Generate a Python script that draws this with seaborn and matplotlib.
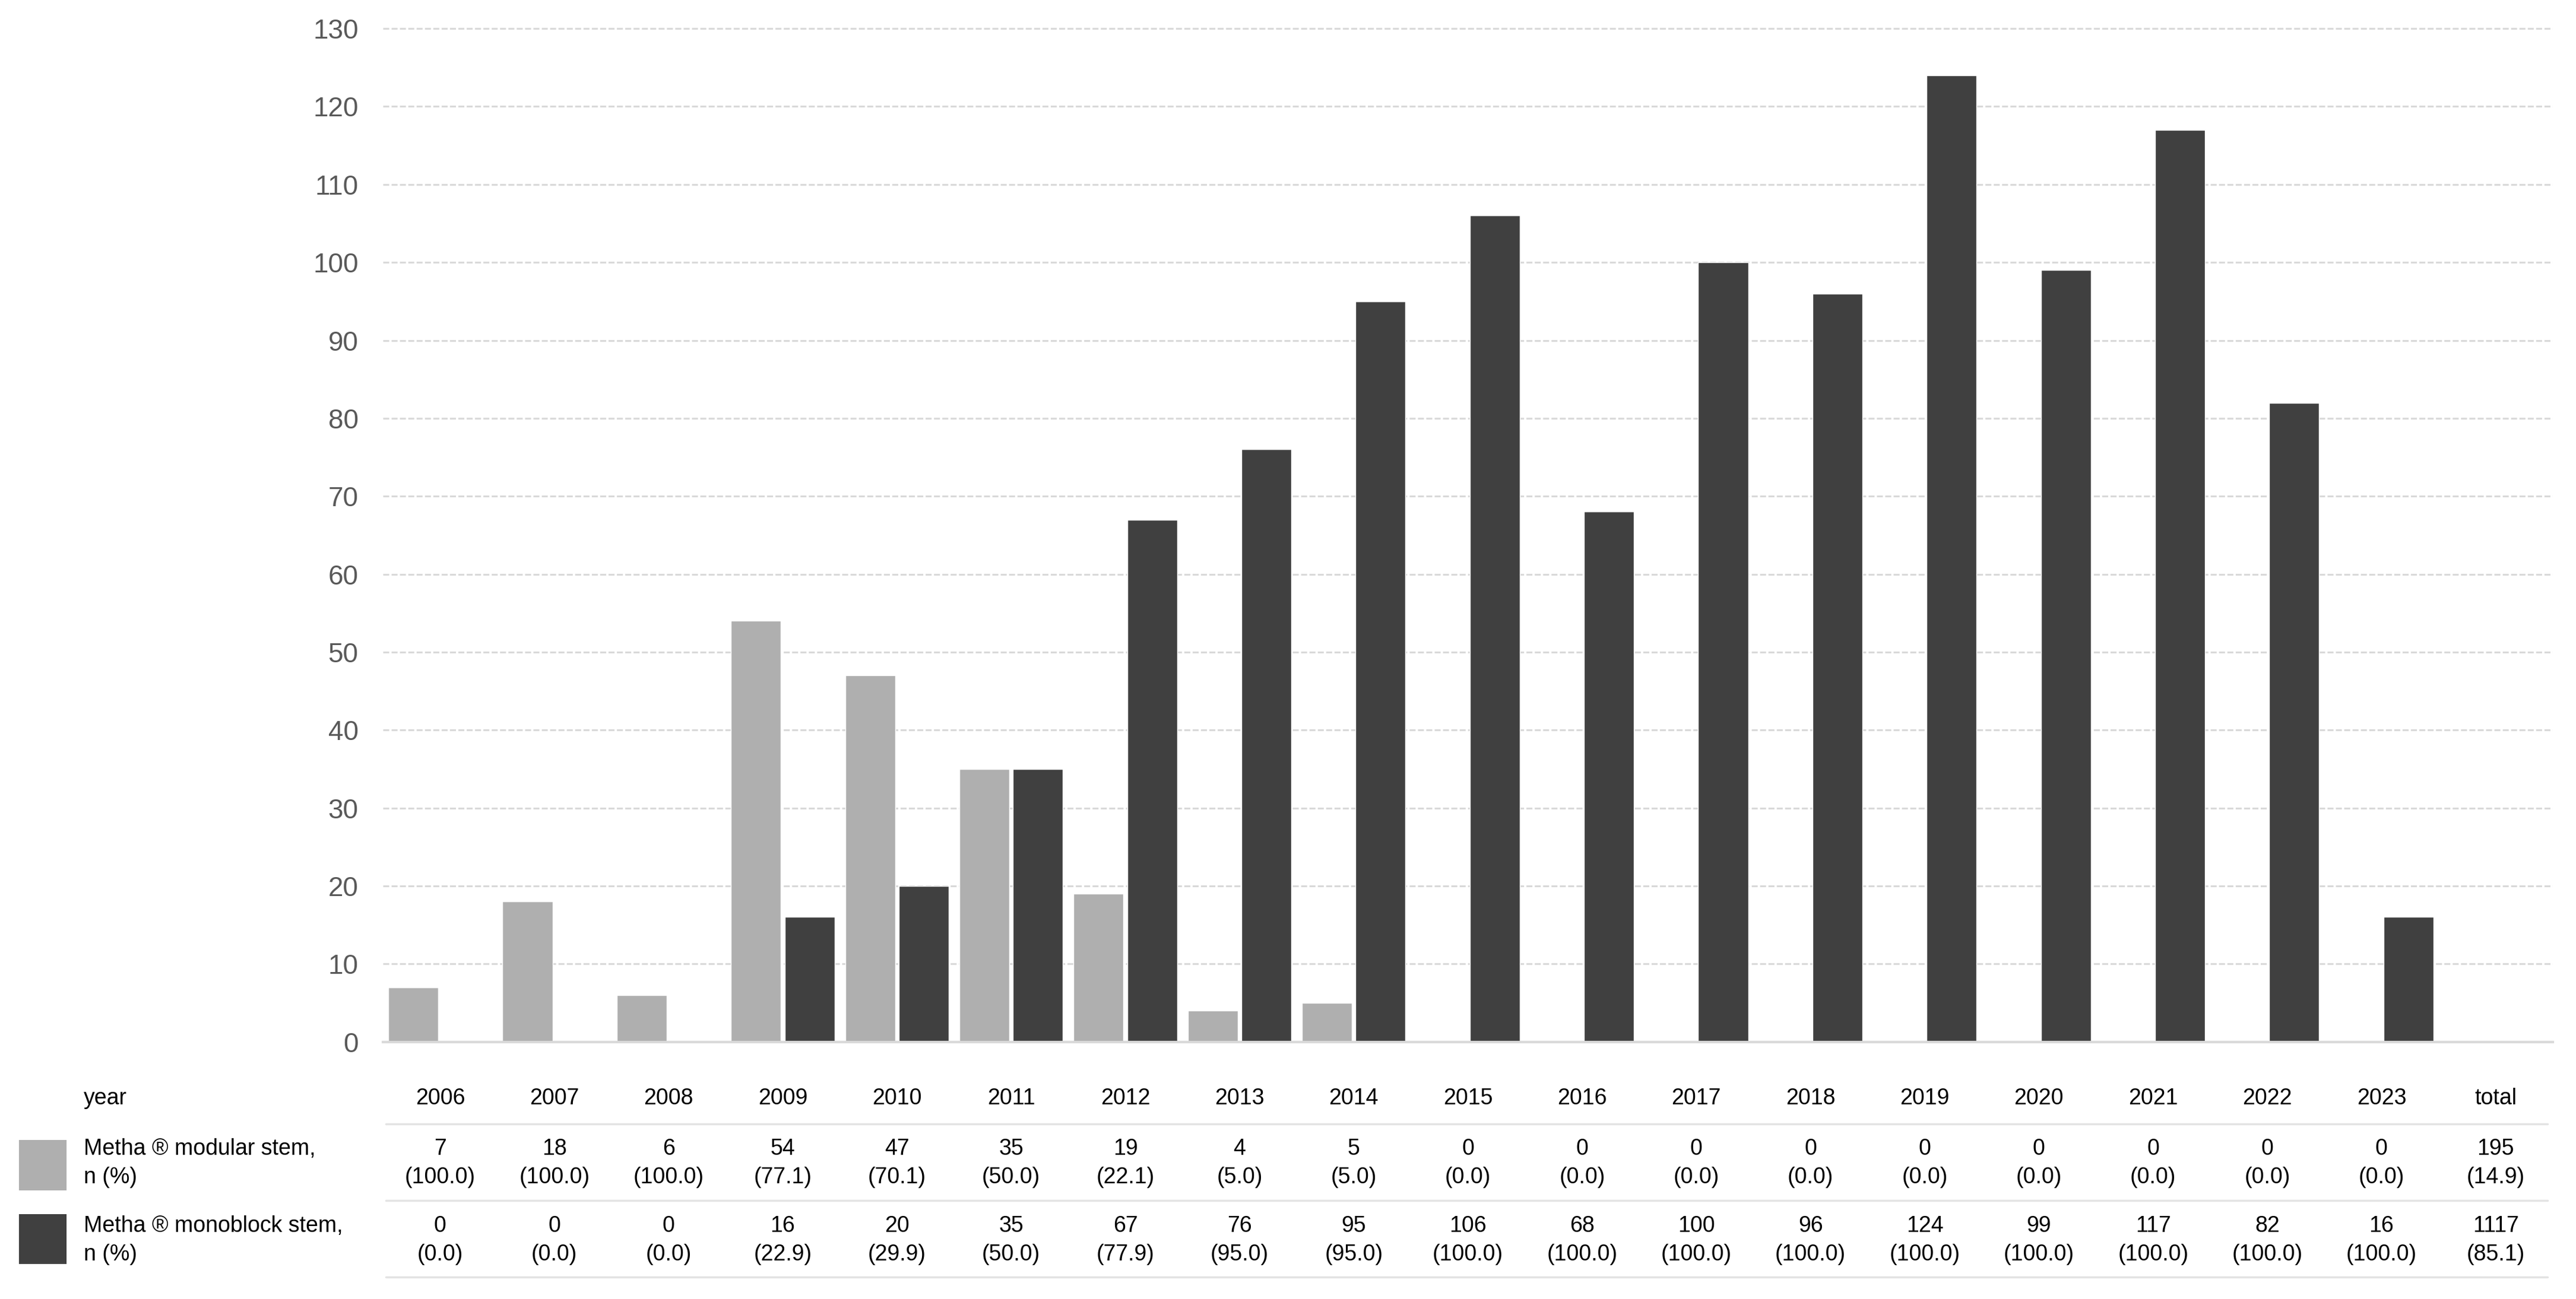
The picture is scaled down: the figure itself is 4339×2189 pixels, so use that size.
import matplotlib
matplotlib.use("Agg")
import matplotlib.pyplot as plt
import seaborn as sns
import pandas as pd
from matplotlib.transforms import blended_transform_factory
from matplotlib.patches import Rectangle
from matplotlib.lines import Line2D

years = ["2006", "2007", "2008", "2009", "2010", "2011", "2012", "2013", "2014",
         "2015", "2016", "2017", "2018", "2019", "2020", "2021", "2022", "2023"]
modular = [7, 18, 6, 54, 47, 35, 19, 4, 5, 0, 0, 0, 0, 0, 0, 0, 0, 0]
monoblock = [0, 0, 0, 16, 20, 35, 67, 76, 95, 106, 68, 100, 96, 124, 99, 117, 82, 16]
modular_pct = ["100.0", "100.0", "100.0", "77.1", "70.1", "50.0", "22.1", "5.0", "5.0",
               "0.0", "0.0", "0.0", "0.0", "0.0", "0.0", "0.0", "0.0", "0.0"]
monoblock_pct = ["0.0", "0.0", "0.0", "22.9", "29.9", "50.0", "77.9", "95.0", "95.0",
                 "100.0", "100.0", "100.0", "100.0", "100.0", "100.0", "100.0", "100.0", "100.0"]
total_label = "total"
modular_total = (195, "14.9")
monoblock_total = (1117, "85.1")
series_names = ["Metha \u00ae modular stem,\nn (%)", "Metha \u00ae monoblock stem,\nn (%)"]
yticks = list(range(0, 131, 10))

LIGHT = "#afafaf"
DARK = "#404040"
GRID = "#d9d9d9"

sns.set_theme(style="white")
plt.rcParams['font.family'] = ['Liberation Sans', 'DejaVu Sans']

df = pd.DataFrame({
    "year": years * 2,
    "count": modular + monoblock,
    "type": [series_names[0]] * len(years) + [series_names[1]] * len(years),
})

fig = plt.figure(figsize=(43.39, 21.89), dpi=100)
ax = fig.add_axes([0.1487, 0.198, 0.991 - 0.1487, 0.984 - 0.198])

sns.barplot(data=df, x="year", y="count", hue="type", order=years,
            palette=[LIGHT, DARK], width=0.94, gap=0.07, ax=ax,
            legend=False, saturation=1)

ax.set_xlim(-0.5, len(years) + 0.5)
ax.set_ylim(0, 131)
ax.set_yticks(yticks)
ax.set_xticks([])
ax.set_xlabel("")
ax.set_ylabel("")
ax.tick_params(axis="y", length=0, pad=30, labelsize=33, labelcolor="#595959")
for s in ["top", "right", "left"]:
    ax.spines[s].set_visible(False)
ax.spines["bottom"].set_color(GRID)
ax.spines["bottom"].set_linewidth(3)
ax.set_axisbelow(True)
ax.yaxis.grid(True, color=GRID, linewidth=2.2, linestyle=(0, (3.3, 1.3)))

# table below
tr = blended_transform_factory(ax.transData, fig.transFigure)
fs = 27
y_year = 0.1544
y_mod = 0.1046
y_mono = 0.0452
cols = years + [total_label]
mod_vals = [f"{v}\n({p})" for v, p in zip(modular, modular_pct)] + [f"{modular_total[0]}\n({modular_total[1]})"]
mono_vals = [f"{v}\n({p})" for v, p in zip(monoblock, monoblock_pct)] + [f"{monoblock_total[0]}\n({monoblock_total[1]})"]
for i, c in enumerate(cols):
    ax.text(i, y_year, c, transform=tr, ha="center", va="center", fontsize=fs, color="black")
    ax.text(i, y_mod, mod_vals[i], transform=tr, ha="center", va="center", fontsize=fs,
            color="black", linespacing=1.45)
    ax.text(i, y_mono, mono_vals[i], transform=tr, ha="center", va="center", fontsize=fs,
            color="black", linespacing=1.45)

fig.text(0.0325, y_year, "year", ha="left", va="center", fontsize=fs, color="black")
fig.text(0.0325, y_mod, series_names[0], ha="left", va="center", fontsize=fs,
         color="black", linespacing=1.45)
fig.text(0.0325, y_mono, series_names[1], ha="left", va="center", fontsize=fs,
         color="black", linespacing=1.45)

fig.patches.append(Rectangle((0.0074, 0.0836), 0.0184, 0.0388, transform=fig.transFigure,
                             facecolor=LIGHT, edgecolor="none"))
fig.patches.append(Rectangle((0.0074, 0.0270), 0.0184, 0.0384, transform=fig.transFigure,
                             facecolor=DARK, edgecolor="none"))

for yy in [0.1348, 0.0758, 0.0169]:
    fig.lines.append(Line2D([0.1498, 0.989], [yy, yy], transform=fig.transFigure,
                            color="#e3e3e3", linewidth=2.5))

fig.savefig("out.png", dpi=100, facecolor="white")
